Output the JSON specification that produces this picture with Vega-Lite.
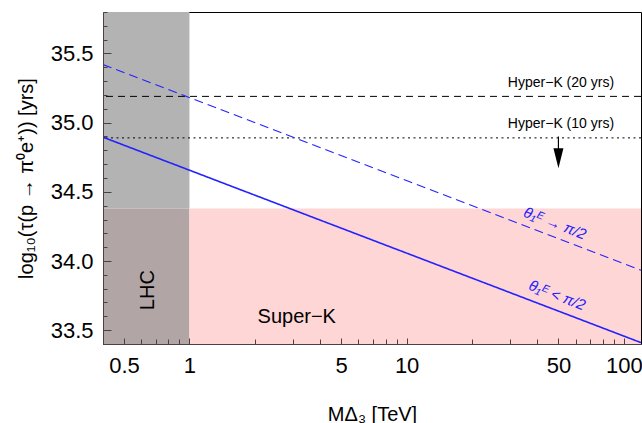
{
  "$schema": "https://vega.github.io/schema/vega-lite/v6.json",
  "width": 538,
  "height": 332,
  "autosize": "none",
  "padding": {"left": 103, "top": 12, "right": 1, "bottom": 79},
  "config": {
    "view": {"stroke": "black", "strokeWidth": 1},
    "font": "Liberation Sans",
    "axis": {"grid": false, "labelFont": "Liberation Sans", "titleFont": "Liberation Sans", "labelColor": "black", "titleColor": "black", "titleFontWeight": "normal", "domainColor": "#4d4040", "tickColor": "#4d4040"}
  },
  "resolve": {"axis": {"x": "independent", "y": "independent"}, "scale": {"strokeDash": "independent", "strokeWidth": "independent"}},
  "datasets": {
    "regions": [
      {"x": 0.4, "x2": 1, "y": 34.38, "y2": 35.8, "r": "LHC"},
      {"x": 0.4, "x2": 1, "y": 33.4, "y2": 34.38, "r": "both"},
      {"x": 1, "x2": 120, "y": 33.4, "y2": 34.38, "r": "SK"}
    ],
    "lines": [
      {"m": 0.4, "tau": 34.895, "s": "lt"},
      {"m": 120, "tau": 33.41, "s": "lt"},
      {"m": 0.4, "tau": 35.42, "s": "to"},
      {"m": 120, "tau": 33.933, "s": "to"}
    ],
    "hk": [
      {"tau": 35.19, "s": "20"},
      {"tau": 34.89, "s": "10"}
    ]
  },
  "layer": [
    {
      "data": {"name": "regions"},
      "mark": {"type": "rect", "clip": true},
      "encoding": {
        "x": {"field": "x", "type": "quantitative", "scale": {"type": "log", "domain": [0.4, 120], "nice": false},
          "axis": {"orient": "bottom", "zindex": 2, "title": "MΔ₃ [TeV]", "titleFontSize": 20, "titlePadding": 28,
            "values": [0.5, 1, 5, 10, 50, 100],
            "labelExpr": "datum.value + ''",
            "labelFontSize": 22, "labelPadding": 11, "labelFlush": false, "labelOverlap": false,
            "ticks": false}},
        "x2": {"field": "x2"},
        "y": {"field": "y", "type": "quantitative", "scale": {"domain": [33.4, 35.8], "nice": false, "zero": false},
          "axis": {"orient": "left", "zindex": 2, "title": "log₁₀(τ(p → π⁰e⁺)) [yrs]", "titleFontSize": 20, "titlePadding": 14,
            "values": [33.5, 34, 34.5, 35, 35.5],
            "format": ".1f",
            "labelFontSize": 22, "labelPadding": 10, "labelFlush": false, "labelOverlap": false,
            "ticks": false}},
        "y2": {"field": "y2"},
        "color": {"field": "r", "type": "nominal", "scale": {"domain": ["LHC", "both", "SK"], "range": ["#b3b3b3", "#b2a5a5", "#ffd6d6"]}, "legend": null}
      }
    },
    {
      "data": {"name": "hk"},
      "mark": {"type": "rule", "color": "black", "strokeWidth": 1},
      "encoding": {
        "y": {"field": "tau", "type": "quantitative", "axis": null},
        "strokeDash": {"field": "s", "type": "nominal", "scale": {"domain": ["20", "10"], "range": [[7, 5], [2, 3.5]]}, "legend": null}
      }
    },
    {
      "data": {"name": "lines"},
      "mark": {"type": "line", "color": "#2222ff", "clip": true},
      "encoding": {
        "x": {"field": "m", "type": "quantitative",
          "axis": {"orient": "bottom", "zindex": 2, "title": null, "labels": false, "domain": false, "offset": -5,
            "values": [0.4, 0.6, 0.7, 0.8, 0.9, 2, 3, 4, 6, 7, 8, 9, 20, 30, 40, 60, 70, 80, 90],
            "tickSize": 5}},
        "y": {"field": "tau", "type": "quantitative",
          "axis": {"orient": "left", "zindex": 2, "title": null, "labels": false, "domain": false, "offset": -4,
            "values": [33.4, 33.6, 33.7, 33.8, 33.9, 34.1, 34.2, 34.3, 34.4, 34.6, 34.7, 34.8, 34.9, 35.1, 35.2, 35.3, 35.4, 35.6, 35.7, 35.8],
            "tickSize": 4}},
        "detail": {"field": "s"},
        "strokeDash": {"field": "s", "type": "nominal", "scale": {"domain": ["lt", "to"], "range": [[1, 0], [9, 5]]}, "legend": null},
        "strokeWidth": {"field": "s", "type": "nominal", "scale": {"domain": ["lt", "to"], "range": [1.6, 1.1]}, "legend": null}
      }
    },
    {
      "data": {"values": [{"m": 50, "a": 34.9, "b": 34.76}]},
      "mark": {"type": "rule", "color": "black", "strokeWidth": 1.2},
      "encoding": {
        "x": {"field": "m", "type": "quantitative",
          "axis": {"orient": "bottom", "zindex": 2, "title": null, "labels": false, "domain": false, "offset": -6,
            "values": [0.5, 1, 5, 10, 50, 100],
            "tickSize": 6}},
        "y": {"field": "a", "type": "quantitative",
          "axis": {"orient": "left", "zindex": 2, "title": null, "labels": false, "domain": false, "offset": -8,
            "values": [33.5, 34, 34.5, 35, 35.5],
            "tickSize": 8}},
        "y2": {"field": "b"}
      }
    },
    {
      "data": {"values": [{"m": 50, "tau": 34.743}]},
      "mark": {"type": "point", "shape": "M-0.5,-1L0.5,-1L0,1Z", "size": 400, "filled": true, "color": "black", "opacity": 1},
      "encoding": {
        "x": {"field": "m", "type": "quantitative", "axis": null},
        "y": {"field": "tau", "type": "quantitative", "axis": null}
      }
    },
    {
      "data": {"values": [
        {"m": 90.2, "tau": 35.285, "t": "Hyper−K (20 yrs)"},
        {"m": 90.2, "tau": 34.988, "t": "Hyper−K (10 yrs)"}
      ]},
      "mark": {"type": "text", "align": "right", "baseline": "middle", "fontSize": 14, "color": "black"},
      "encoding": {
        "x": {"field": "m", "type": "quantitative", "axis": null},
        "y": {"field": "tau", "type": "quantitative", "axis": null},
        "text": {"field": "t"}
      }
    },
    {
      "data": {"values": [
        {"m": 48.2, "tau": 34.273, "t": "θ₁ᴱ → π/2"},
        {"m": 49.3, "tau": 33.752, "t": "θ₁ᴱ < π/2"}
      ]},
      "mark": {"type": "text", "align": "center", "baseline": "middle", "fontSize": 15, "fontStyle": "italic", "angle": 21, "color": "#2222ff"},
      "encoding": {
        "x": {"field": "m", "type": "quantitative", "axis": null},
        "y": {"field": "tau", "type": "quantitative", "axis": null},
        "text": {"field": "t"}
      }
    },
    {
      "data": {"values": [{"m": 0.642, "tau": 33.789, "t": "LHC"}]},
      "mark": {"type": "text", "align": "center", "baseline": "middle", "fontSize": 20, "angle": 270, "color": "black"},
      "encoding": {
        "x": {"field": "m", "type": "quantitative", "axis": null},
        "y": {"field": "tau", "type": "quantitative", "axis": null},
        "text": {"field": "t"}
      }
    },
    {
      "data": {"values": [{"m": 3.12, "tau": 33.594, "t": "Super−K"}]},
      "mark": {"type": "text", "align": "center", "baseline": "middle", "fontSize": 20, "color": "black"},
      "encoding": {
        "x": {"field": "m", "type": "quantitative", "axis": null},
        "y": {"field": "tau", "type": "quantitative", "axis": null},
        "text": {"field": "t"}
      }
    }
  ]
}
